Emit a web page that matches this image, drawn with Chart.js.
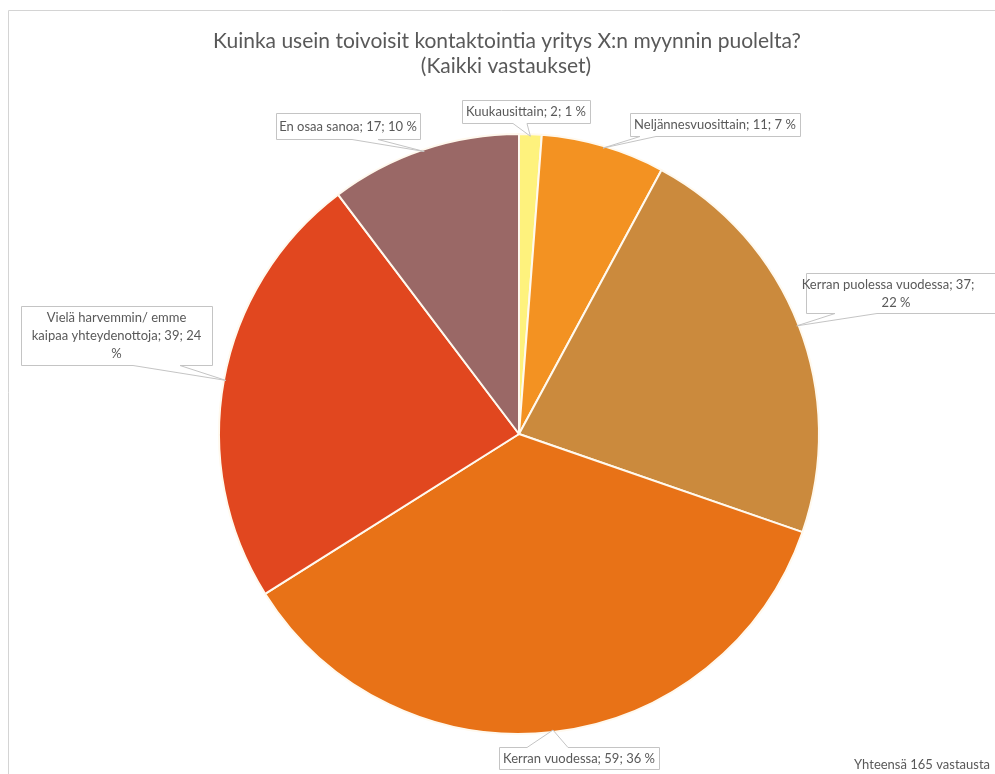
<!DOCTYPE html>
<html>
<head>
<meta charset="utf-8">
<script src="https://cdn.jsdelivr.net/npm/chart.js@4/dist/chart.umd.min.js"></script>
<style>
body { margin: 0; background: #ffffff; }
#wrap { width: 995px; height: 774px; position: relative; }
</style>
</head>
<body>
<div id="wrap"><canvas id="contactPie" width="995" height="774"></canvas></div>
<script>
// survey answers, clockwise from 12 o'clock
const categories = ["Kuukausittain", "Neljännesvuosittain", "Kerran puolessa vuodessa",
                    "Kerran vuodessa", "Vielä harvemmin/ emme kaipaa yhteydenottoja", "En osaa sanoa"];
const answers = [2, 11, 37, 59, 39, 17];
const sliceColours = ["#FEF27D", "#F39222", "#CB8A3D", "#E87217", "#E1471F", "#9A6866"];

const titleLines = ["Kuinka usein toivoisit kontaktointia yritys X:n myynnin puolelta?", "(Kaikki vastaukset)"];

const totalAnswers = answers.reduce((a, b) => a + b, 0);
const totalNote = "Yhteensä " + totalAnswers + " vastausta";

const textColour = "#595959";
const labelFont = "13px Lato, 'Liberation Sans', sans-serif";

// callout boxes (same order as categories): box rect, pointer edge, pointer base on that edge
const calloutBoxes = [
	{x: 462, y: 100, w: 128, h: 23, side: "bottom", base: [513, 527], wrap: 220},
	{x: 630, y: 113, w: 170, h: 23, side: "bottom", base: [640, 656], wrap: 220},
	{x: 806, y: 273, w: 200, h: 40, side: "bottom", base: [835, 877], wrap: 175},
	{x: 499, y: 747, w: 160, h: 22, side: "top",    base: [527, 568], wrap: 220},
	{x: 21,  y: 306, w: 191, h: 59, side: "bottom", base: [133, 180], wrap: 171},
	{x: 276, y: 113, w: 144, h: 26, side: "bottom", base: [352, 378], wrap: 220}
];

function labelText(i){
	let pct = Math.round(answers[i] / totalAnswers * 100);
	return categories[i] + "; " + answers[i] + "; " + pct + " %";
}//end labelText

function wrapLines(ctx, text, maxW){
	let words = text.split(" ");
	let lines = [];
	let cur = "";
	words.forEach(w => {
		let test = cur ? cur + " " + w : w;
		if(cur && ctx.measureText(test).width > maxW){
			lines.push(cur);
			cur = w;
		}
		else cur = test;
	});
	if(cur) lines.push(cur);
	return lines;
}//end wrapLines

// box with a wedge pointing at the slice
function drawCallout(ctx, box, tip){
	let x0 = box.x + 0.5, y0 = box.y + 0.5, x1 = box.x + box.w + 0.5, y1 = box.y + box.h + 0.5;
	ctx.beginPath();
	if(box.side == "bottom"){
		ctx.moveTo(x0, y0);
		ctx.lineTo(x1, y0);
		ctx.lineTo(x1, y1);
		ctx.lineTo(box.base[1], y1);
		ctx.lineTo(tip.x, tip.y);
		ctx.lineTo(box.base[0], y1);
		ctx.lineTo(x0, y1);
	}
	else{
		ctx.moveTo(x0, y1);
		ctx.lineTo(x0, y0);
		ctx.lineTo(box.base[0], y0);
		ctx.lineTo(tip.x, tip.y);
		ctx.lineTo(box.base[1], y0);
		ctx.lineTo(x1, y0);
		ctx.lineTo(x1, y1);
	}
	ctx.closePath();
	ctx.fillStyle = "#ffffff";
	ctx.fill();
	ctx.strokeStyle = "#C4C4C4";
	ctx.lineWidth = 1;
	ctx.stroke();
}//end drawCallout

const calloutPlugin = {
	id: "callouts",
	beforeDraw(chart){
		let ctx = chart.ctx;
		ctx.save();
		// chart frame
		ctx.strokeStyle = "#D4D4D4";
		ctx.lineWidth = 1;
		ctx.beginPath();
		ctx.moveTo(8.5, 774);
		ctx.lineTo(8.5, 10.5);
		ctx.lineTo(995, 10.5);
		ctx.stroke();

		ctx.fillStyle = textColour;
		ctx.font = "21px Lato, 'Liberation Sans', sans-serif";
		ctx.textAlign = "center";
		ctx.textBaseline = "middle";
		ctx.fillText(titleLines[0], 507, 41);
		ctx.fillText(titleLines[1], 506, 66);
		ctx.restore();
	},
	afterDatasetsDraw(chart){
		let ctx = chart.ctx;
		let arcs = chart.getDatasetMeta(0).data;
		ctx.save();
		arcs.forEach((arc, i) => {
			let p = arc.getProps(["x", "y", "startAngle", "endAngle", "outerRadius"], true);
			let mid = (p.startAngle + p.endAngle) / 2;
			let tip = {x: p.x + Math.cos(mid) * (p.outerRadius - 2), y: p.y + Math.sin(mid) * (p.outerRadius - 2)};
			let box = calloutBoxes[i];
			drawCallout(ctx, box, tip);

			ctx.font = labelFont;
			ctx.fillStyle = textColour;
			ctx.textAlign = "center";
			ctx.textBaseline = "middle";
			let lines = wrapLines(ctx, labelText(i), box.wrap);
			let lh = 18;
			let cy = box.y + box.h / 2 - (lines.length - 1) * lh / 2 + 0.5;
			let cx = box.x + Math.min(box.w, 995 - box.x - 2) / 2;
			lines.forEach((ln, k) => ctx.fillText(ln, i == 2 ? 888 + k * 8 : cx, cy + k * lh));
		});

		ctx.font = labelFont;
		ctx.fillStyle = textColour;
		ctx.textAlign = "right";
		ctx.textBaseline = "middle";
		ctx.fillText(totalNote, 990, 765);
		ctx.restore();
	}
};

new Chart("contactPie", {
	type: "pie",
	data: {
		labels: categories,
		datasets: [{
			data: answers,
			backgroundColor: sliceColours,
			borderColor: "#FFF9EE",
			borderWidth: 2
		}]
	},
	options: {
		responsive: false,
		animation: false,
		radius: 300,
		layout: {padding: {left: 219, right: 176, top: 134, bottom: 40}},
		plugins: {
			legend: {display: false},
			tooltip: {enabled: false},
			title: {display: false}
		}
	},
	plugins: [calloutPlugin]
});
</script>
</body>
</html>
